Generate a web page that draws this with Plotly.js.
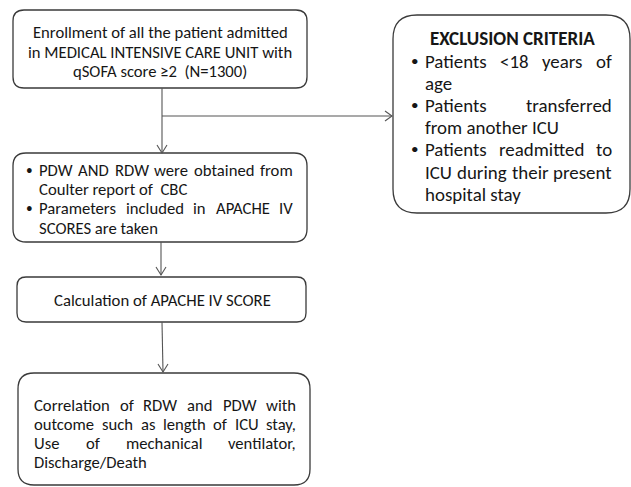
<!DOCTYPE html>
<html><head><meta charset="utf-8">
<script src="https://cdn.plot.ly/plotly-3.0.1.min.js"></script>
<style>html,body{margin:0;padding:0;background:#fff}</style>
</head><body><div id="chart" style="width:631px;height:487px"></div>
<script>
// ---- content ----
const enrollLines = ["Enrollment of all the patient admitted", "in MEDICAL INTENSIVE CARE UNIT with", "qSOFA score ≥2  (N=1300)"];
const exclusionTitle = "EXCLUSION CRITERIA";
const exclusionItems = [
  ["Patients <18 years of", "age"],
  ["Patients transferred", "from another ICU"],
  ["Patients readmitted to", "ICU during their present", "hospital stay"]
];
const dataItems = [
  ["PDW AND RDW were obtained from", "Coulter report of  CBC"],
  ["Parameters included in APACHE IV", "SCORES are taken"]
];
const calcText = "Calculation of APACHE IV SCORE";
const outcomeLines = ["Correlation of RDW and PDW with", "outcome such as length of ICU stay,", "Use of mechanical ventilator,", "Discharge/Death"];

// ---- helpers ----
const FAM = "Carlito, Lato, 'Open Sans', sans-serif";
const cv = document.createElement('canvas').getContext('2d');
function measure(t, size, bold){ cv.font = (bold?'bold ':'') + size + 'px ' + FAM; return cv.measureText(t).width; }
function fit(t, target, bold){ return 100 * target / measure(t, 100, bold); }
const TXT = '#161616';
const annotations = [];
function addText(t, x, y, size, anchor, bold){
  annotations.push({x:x, y:y, xref:'x', yref:'y', text: bold?('<b>'+t+'</b>'):t, showarrow:false,
    xanchor:anchor, yanchor:'middle', borderpad:0, font:{family:FAM, size:size, color:TXT}});
}
function justify(t, x0, x1, y, size){
  const words = t.split(/\s+/);
  if (words.length < 2){ addText(t, x0, y, size, 'left'); return; }
  const ws = words.map(w => measure(w, size));
  const gap = (x1 - x0 - ws.reduce((a,b)=>a+b,0)) / (words.length - 1);
  let x = x0;
  words.forEach((w,i) => { addText(w, x, y, size, 'left'); x += ws[i] + gap; });
}
function rrect(x0,y0,x1,y1,r){
  return `M${x0+r},${y0} L${x1-r},${y0} Q${x1},${y0} ${x1},${y0+r} L${x1},${y1-r} Q${x1},${y1} ${x1-r},${y1} L${x0+r},${y1} Q${x0},${y1} ${x0},${y1-r} L${x0},${y0+r} Q${x0},${y0} ${x0+r},${y0} Z`;
}
const shapes = [];
const BOX = {color:'#3a3a3a', width:1.3};
const CON = {color:'#555555', width:1.1};
function box(x0,y0,x1,y1,r){ shapes.push({type:'path', xref:'x', yref:'y', path:rrect(x0,y0,x1,y1,r), line:BOX, fillcolor:'rgba(0,0,0,0)'}); }
function seg(p){ shapes.push({type:'path', xref:'x', yref:'y', path:p, line:CON}); }
function arrowDown(x0,y0,x1,y1){ seg(`M${x0},${y0} L${x1},${y1}`); seg(`M${x1-5},${y1-8} L${x1},${y1} L${x1+5},${y1-8}`); }
function arrowRight(x0,y,x1){ seg(`M${x0},${y} L${x1},${y}`); seg(`M${x1-7},${y-5} L${x1},${y} L${x1-7},${y+5}`); }

// ---- boxes ----
box(13,10,307,88,11);
box(393,15,630,213,24);
box(13,153,307,242,13);
box(17,277,306,322,9);
box(18,373,310,485,16);

// ---- connectors ----
arrowDown(162,88,162,153);
arrowRight(162,116,392);
arrowDown(161,242,161,275);
arrowDown(162,322,163,372);

// ---- text ----
const s1 = fit(enrollLines[0], 255);
[32,52,71].forEach((y,i) => addText(enrollLines[i], 160, y, s1, 'center'));

const sT = fit(exclusionTitle, 165, true);
addText(exclusionTitle, 512, 38, sT, 'center', true);
const sE = fit("from another ICU", 134);
const exY = [61,83,105,127,149,172,194];
let k = 0;
exclusionItems.forEach(item => {
  addText('•', 415, exY[k], sE*0.8, 'center');
  item.forEach((ln, j) => {
    const last = j === item.length - 1;
    if (last) addText(ln, 424, exY[k], sE, 'left'); else justify(ln, 424, 611, exY[k], sE);
    k++;
  });
});

const s2 = fit("SCORES are taken", 119);
const d2Y = [170,189,208,228];
k = 0;
dataItems.forEach(item => {
  addText('•', 29, d2Y[k], s2*0.8, 'center');
  item.forEach((ln, j) => {
    const last = j === item.length - 1;
    if (last) addText(ln, 38, d2Y[k], s2, 'left'); else justify(ln, 38, 292, d2Y[k], s2);
    k++;
  });
});

const s3 = fit(calcText, 217);
addText(calcText, 162, 300, s3, 'center');

const s4 = fit("Discharge/Death", 113);
const o4Y = [405,424,443,462];
outcomeLines.forEach((ln, i) => {
  if (i === outcomeLines.length - 1) addText(ln, 33, o4Y[i], s4, 'left'); else justify(ln, 33, 295, o4Y[i], s4);
});

const layout = {
  width:631, height:487, margin:{l:0,r:0,t:0,b:0}, paper_bgcolor:'#fff', plot_bgcolor:'#fff',
  xaxis:{range:[0,631], visible:false, fixedrange:true},
  yaxis:{range:[487,0], visible:false, fixedrange:true},
  shapes:shapes, annotations:annotations, showlegend:false
};
Plotly.newPlot('chart', [], layout, {staticPlot:true, displayModeBar:false});
</script></body></html>
